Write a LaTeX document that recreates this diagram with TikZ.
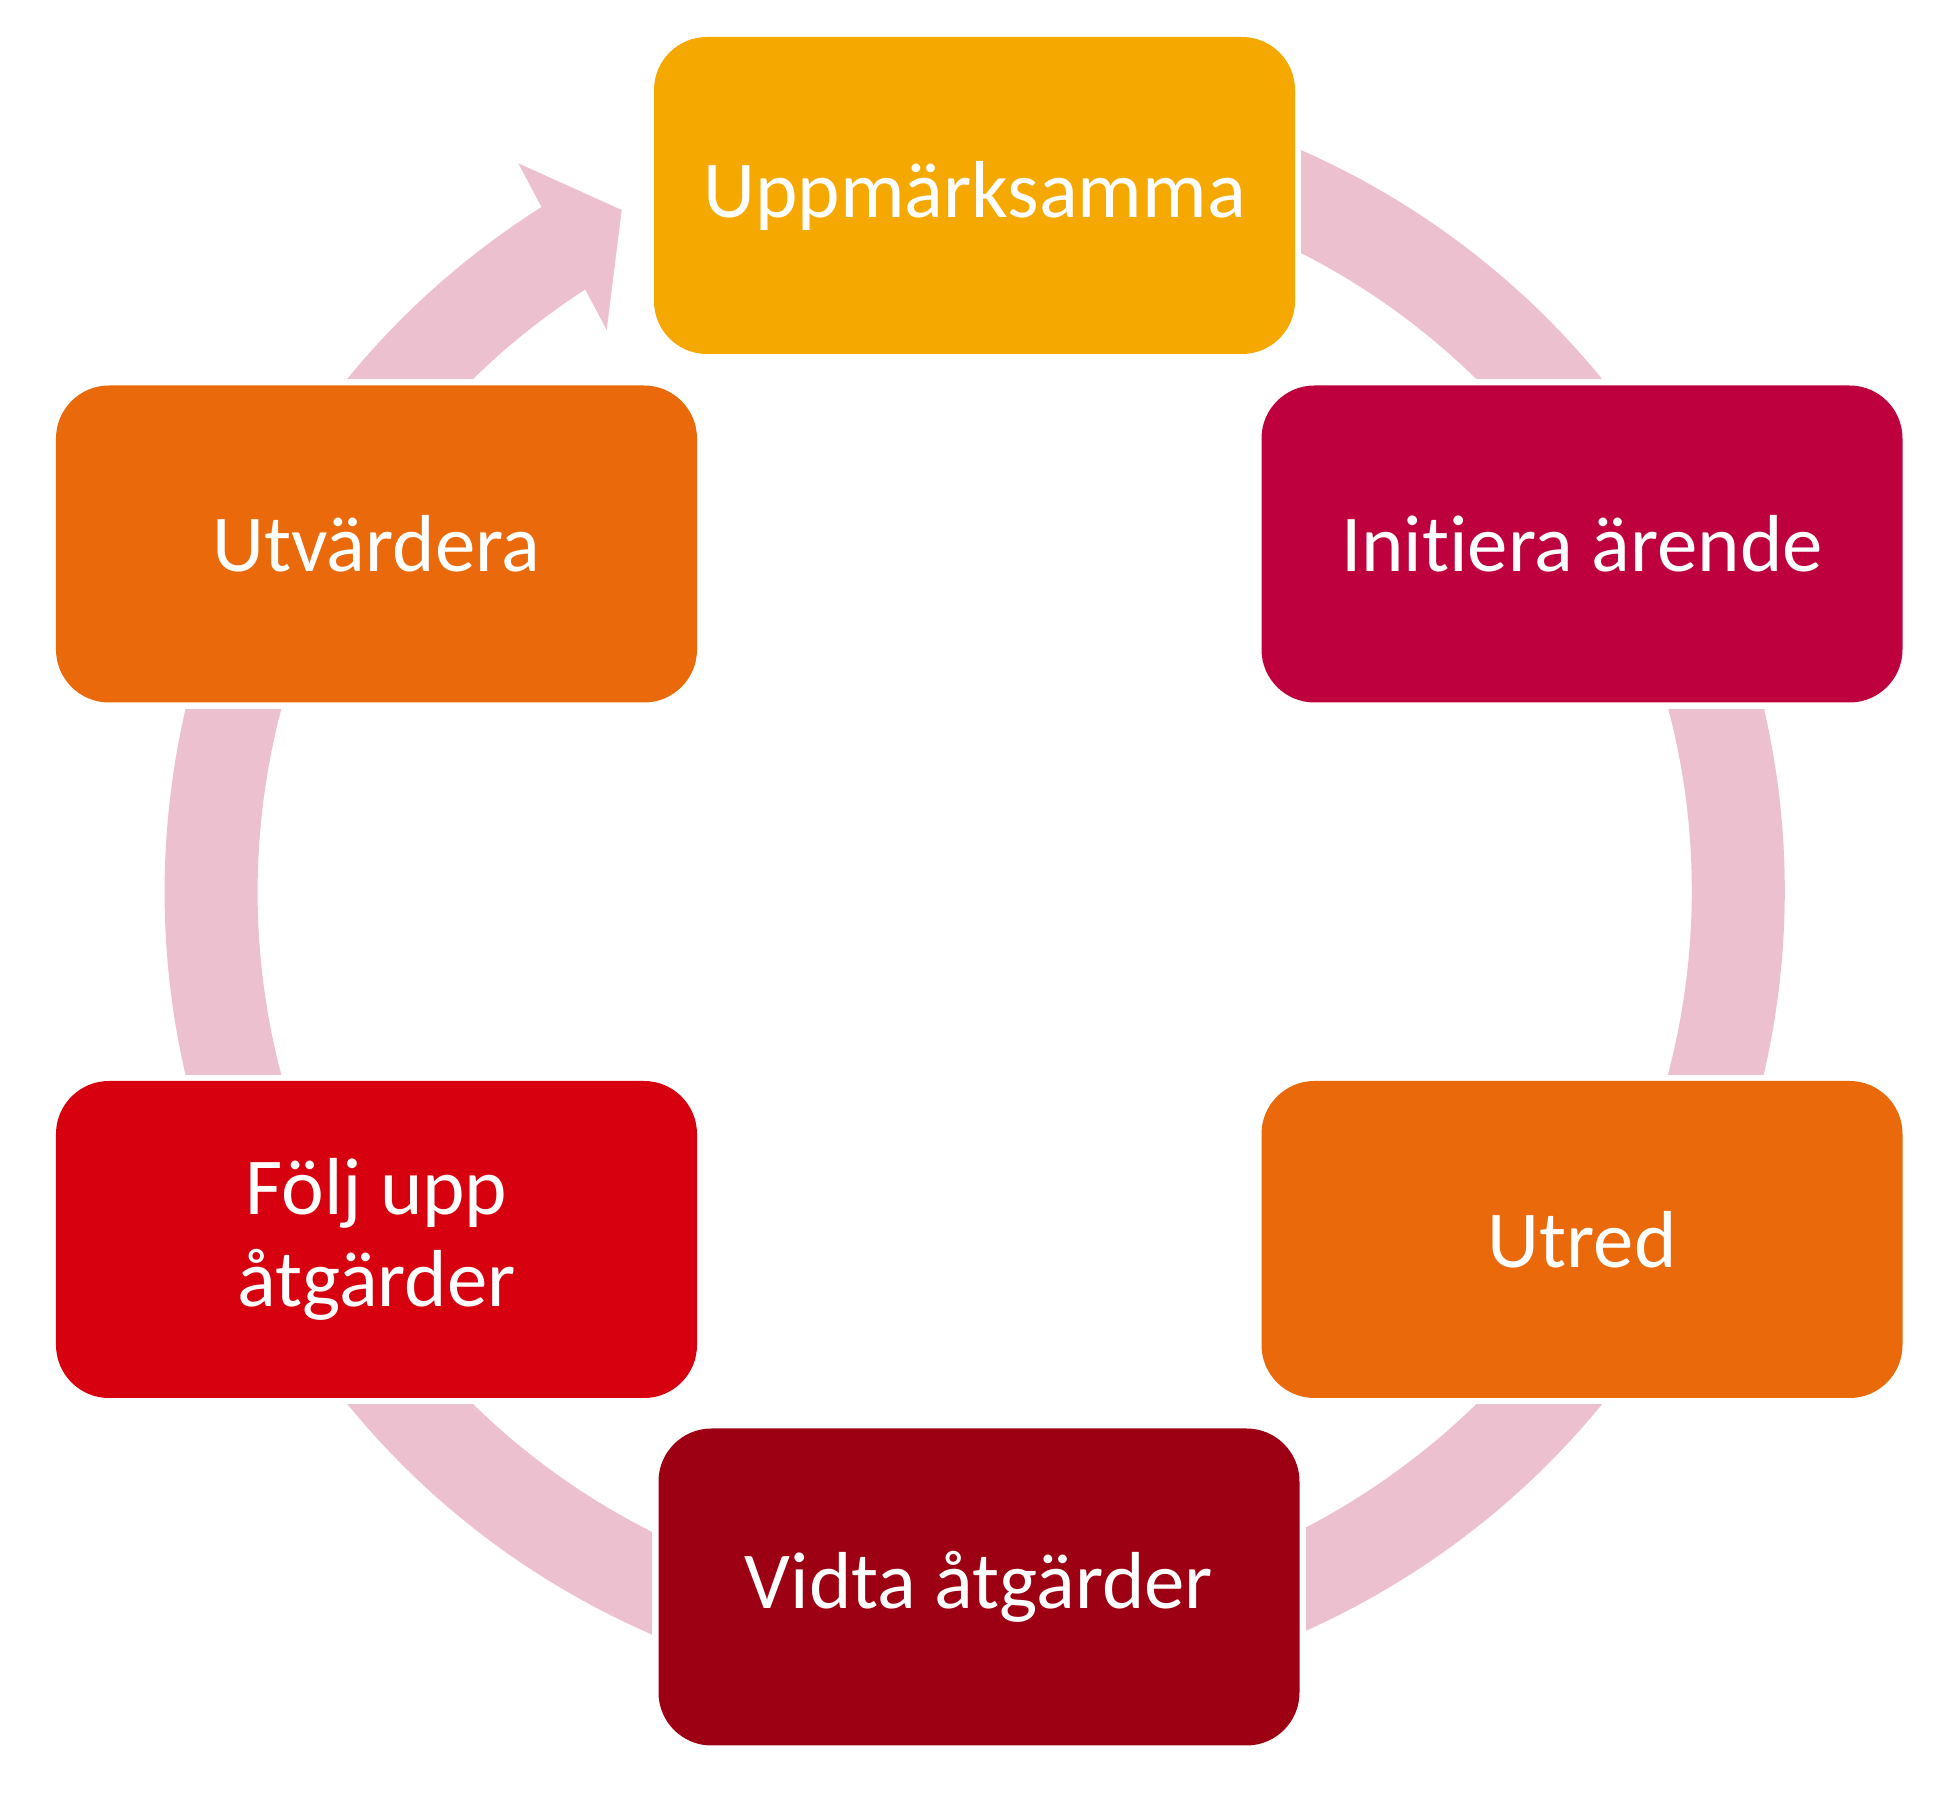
\documentclass[tikz,border=0pt]{standalone}
\usepackage{fontspec}
\setmainfont{Carlito}[Ligatures={NoCommon,NoRequired,NoContextual}]
\usetikzlibrary{backgrounds,calc}
\definecolor{ringpink}{RGB}{237,192,208}
\definecolor{cAmber}{RGB}{245,168,0}
\definecolor{cCrimson}{RGB}{190,0,63}
\definecolor{cOrange}{RGB}{234,105,11}
\definecolor{cRed}{RGB}{215,0,15}
\definecolor{cDark}{RGB}{157,0,18}
\begin{document}
\begin{tikzpicture}[
  stepbox/.style={rectangle, rounded corners=0.53cm, minimum width=6.41cm,
    minimum height=3.17cm, inner sep=0pt, text=white, align=center,
    font=\fontsize{23}{26}\selectfont},
  ringline/.style={draw=ringpink, line width=0.93cm},
  cutout/.style={fill=white}
]
\useasboundingbox (0,0) rectangle (19.47,18);
\node[stepbox, fill=cAmber]   (upp) at (9.745,16.045) {Uppmärksamma};
\node[stepbox, fill=cCrimson] (ini) at (15.82,12.56)  {Initiera ärende};
\node[stepbox, fill=cOrange]  (utr) at (15.82,5.605)  {Utred};
\node[stepbox, fill=cDark]    (vid) at (9.79,2.13)    {Vidta åtgärder};
\node[stepbox, fill=cRed]     (fol) at (3.765,5.605)  {Följ upp\\åtgärder};
\node[stepbox, fill=cOrange]  (utv) at (3.765,12.56)  {Utvärdera};
\begin{scope}[on background layer]
  \coordinate (C) at (9.747,9.085);
  \draw[ringline] (C) ++(122.0:7.635) arc[start angle=122.0, end angle=473, radius=7.635];
  \coordinate (hb1) at (5.183,16.367);
  \coordinate (htip) at (6.217,15.90);
  \coordinate (hb2) at (6.067,14.70);
  \fill[ringpink] (hb1) -- (htip) -- (hb2) -- cycle;
  \foreach \n in {upp,ini,utr,vid,fol,utv}
    \fill[cutout] ($(\n.south west)+(-0.055,-0.055)$) rectangle ($(\n.north east)+(0.055,0.055)$);
\end{scope}
\end{tikzpicture}
\end{document}
